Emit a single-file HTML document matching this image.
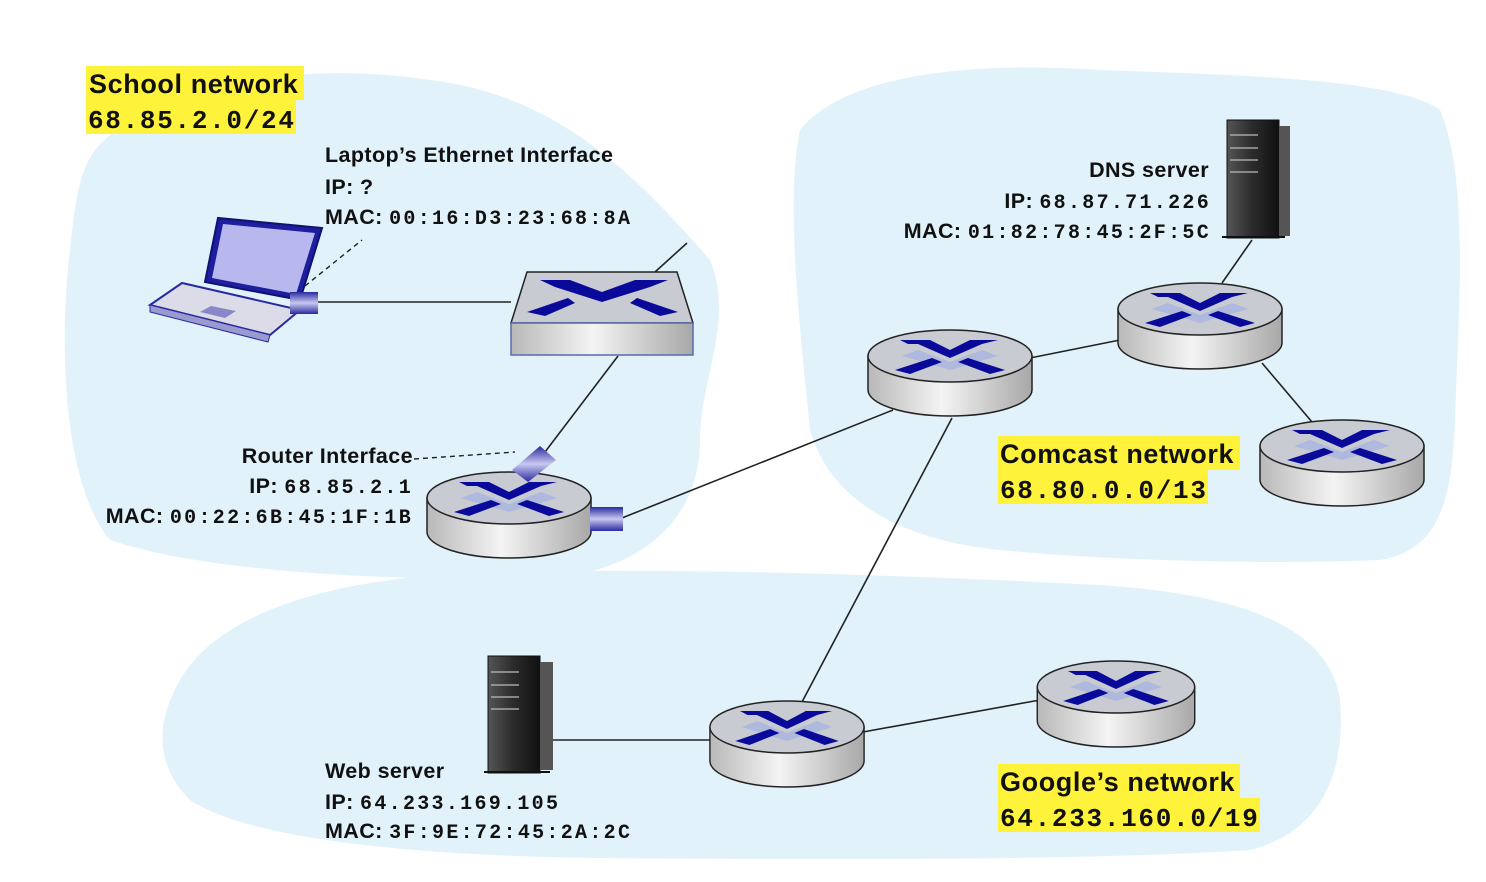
<!DOCTYPE html>
<html><head><meta charset="utf-8"><style>
html,body{margin:0;padding:0;background:#fff;}
svg{display:block}
.s{font-family:"Liberation Sans",sans-serif;font-weight:bold;fill:#111;letter-spacing:0.4px}
.m{font-family:"Liberation Mono",monospace;fill:#111;font-weight:bold;letter-spacing:2.3px}
.hs{letter-spacing:0.6px}
.hm{letter-spacing:1.7px}
</style></head><body>
<svg width="1486" height="882" viewBox="0 0 1486 882" xmlns="http://www.w3.org/2000/svg">
<defs>
<linearGradient id="cyl" x1="0" x2="1" y1="0" y2="0">
<stop offset="0" stop-color="#b8b8b8"/><stop offset="0.45" stop-color="#f4f4f4"/><stop offset="1" stop-color="#a8a8a8"/></linearGradient>
<linearGradient id="srv" x1="0" x2="1"><stop offset="0" stop-color="#555"/><stop offset="0.5" stop-color="#2a2a2a"/><stop offset="1" stop-color="#111"/></linearGradient>
<linearGradient id="port" x1="0" x2="0" y1="0" y2="1"><stop offset="0" stop-color="#2a2aa0"/><stop offset="0.5" stop-color="#c8c8f0"/><stop offset="1" stop-color="#2a2aa0"/></linearGradient>
<g id="router">
<path d="M-82,0 L-82,34 A82,26 0 0 0 82,34 L82,0 Z" fill="url(#cyl)" stroke="#222" stroke-width="1.5"/>
<ellipse cx="0" cy="0" rx="82" ry="26" fill="#c9cbd2" stroke="#222" stroke-width="1.5"/>
<path d="M-32,-6 L0,6 L32,-6 L48,0 L0,14 L-48,0 Z" fill="#a8b4e0" opacity="0.8"/>
<polygon points="-50,-16 -20,-16 0,-6 20,-16 48,-16 32,-12 0,2 -32,-12 -42,-12" fill="#0a0a9a"/>
<polygon points="-55,14 -18,2 -8,6 -40,18" fill="#0a0a9a"/>
<polygon points="55,14 18,2 8,6 40,18" fill="#0a0a9a"/>
</g>
</defs>
<!-- clouds -->
<path d="M95,150 C150,85 300,60 430,80 C560,95 640,180 710,260 C735,320 700,380 700,440 C700,520 640,585 500,580 C350,578 200,570 110,540 C60,480 60,330 70,250 C75,200 80,170 95,150 Z" fill="#e1f2fb"/>
<path d="M800,130 C840,80 950,60 1100,70 C1250,75 1400,80 1440,110 C1470,180 1458,320 1455,420 C1452,500 1440,550 1380,560 C1260,565 1100,560 1000,550 C900,540 830,500 810,430 C800,330 785,200 800,130 Z" fill="#e1f2fb"/>
<path d="M180,680 C220,610 340,575 500,572 C700,568 900,575 1100,585 C1250,595 1330,630 1340,700 C1345,760 1330,830 1250,850 C1100,860 850,860 600,858 C420,856 250,840 190,800 C150,760 160,715 180,680 Z" fill="#e1f2fb"/>
<!-- lines -->
<g stroke="#222" stroke-width="1.6" fill="none">
<line x1="318" y1="302" x2="511" y2="302"/>
<line x1="655" y1="272" x2="687" y2="243"/>
<line x1="618" y1="356" x2="545" y2="452"/>
<line x1="622" y1="518" x2="893" y2="410"/>
<line x1="1030" y1="358" x2="1120" y2="340"/>
<line x1="1222" y1="283" x2="1252" y2="240"/>
<line x1="1262" y1="363" x2="1312" y2="422"/>
<line x1="952" y1="418" x2="802" y2="702"/>
<line x1="553" y1="740" x2="712" y2="740"/>
<line x1="863" y1="732" x2="1040" y2="700"/>
</g>
<g stroke="#222" stroke-width="1.4" stroke-dasharray="5,4" fill="none">
<line x1="305" y1="286" x2="362" y2="240"/>
<line x1="414" y1="459" x2="515" y2="452"/>
</g>
<!-- laptop -->
<polygon points="150,305 270,335 300,310 182,283" fill="#dcdce8" stroke="#2a2aa0" stroke-width="2"/>
<polygon points="150,305 150,312 268,342 270,335" fill="#9a9ad0" stroke="#2a2aa0" stroke-width="1"/>
<polygon points="205,282 218,218 322,228 300,300" fill="#1e1ea0" stroke="#111170" stroke-width="2"/>
<polygon points="212,278 223,224 315,233 296,294" fill="#b8b8ee"/>
<polygon points="200,312 225,318 236,311 211,306" fill="#8888c8"/>
<rect x="290" y="292" width="28" height="22" fill="url(#port)"/>
<!-- switch -->
<polygon points="527,272 677,272 693,323 511,323" fill="#c9cbd2" stroke="#222" stroke-width="1.5"/>
<rect x="511" y="323" width="182" height="32" fill="url(#cyl)" stroke="#5a6ab0" stroke-width="1.5"/>
<polygon points="540,280 570,280 602,292 635,280 668,280 650,287 602,302 555,287" fill="#0a0a9a"/>
<polygon points="527,312 568,298 575,303 545,316" fill="#0a0a9a"/>
<polygon points="678,312 637,298 630,303 660,316" fill="#0a0a9a"/>
<!-- routers -->
<use href="#router" x="509" y="498"/>
<polygon points="512,470 540,446 556,460 528,482" fill="url(#port)"/>
<rect x="590" y="507" width="33" height="24" fill="url(#port)"/>
<use href="#router" x="950" y="356"/>
<use href="#router" x="1200" y="309"/>
<use href="#router" x="1342" y="446"/>
<g transform="translate(787,727) scale(0.94,1)"><use href="#router"/></g>
<g transform="translate(1116,687) scale(0.96,1)"><use href="#router"/></g>
<!-- servers -->
<rect x="1227" y="120" width="52" height="118" fill="url(#srv)" stroke="#111"/>
<rect x="1279" y="126" width="11" height="110" fill="#555"/>
<g stroke="#bbb" stroke-width="1.2"><line x1="1230" y1="135" x2="1258" y2="135"/><line x1="1230" y1="148" x2="1258" y2="148"/><line x1="1230" y1="160" x2="1258" y2="160"/><line x1="1230" y1="172" x2="1258" y2="172"/></g>
<line x1="1222" y1="237" x2="1285" y2="237" stroke="#111" stroke-width="2"/>
<rect x="488" y="656" width="52" height="117" fill="url(#srv)" stroke="#111"/>
<rect x="540" y="662" width="13" height="108" fill="#555"/>
<g stroke="#bbb" stroke-width="1.2"><line x1="491" y1="672" x2="519" y2="672"/><line x1="491" y1="685" x2="519" y2="685"/><line x1="491" y1="697" x2="519" y2="697"/><line x1="491" y1="709" x2="519" y2="709"/></g>
<line x1="484" y1="772" x2="550" y2="772" stroke="#111" stroke-width="2"/>
<!-- highlights -->
<g fill="#fff23a">
<rect x="86" y="66" width="218" height="34"/><rect x="86" y="100" width="210" height="34"/>
<rect x="998" y="436" width="242" height="34"/><rect x="998" y="470" width="210" height="34"/>
<rect x="998" y="764" width="242" height="34"/><rect x="998" y="798" width="262" height="34"/>
</g>
<text class="s hs" x="89" y="93" font-size="27">School network</text>
<text class="m hm" x="88" y="128" font-size="26">68.85.2.0/24</text>
<text class="s hs" x="1000" y="463" font-size="27">Comcast network</text>
<text class="m hm" x="1000" y="498" font-size="26">68.80.0.0/13</text>
<text class="s hs" x="1000" y="791" font-size="27">Google’s network</text>
<text class="m hm" x="1000" y="826" font-size="26">64.233.160.0/19</text>
<g font-size="21.5">
<text class="s" x="325" y="162">Laptop’s Ethernet Interface</text>
<text class="s" x="325" y="194">IP: ?</text>
<text x="325" y="224"><tspan class="s">MAC: </tspan><tspan class="m" font-size="20">00:16:D3:23:68:8A</tspan></text>
<text class="s" x="413" y="463" text-anchor="end">Router Interface</text>
<text x="413" y="493" text-anchor="end"><tspan class="s">IP: </tspan><tspan class="m" font-size="20">68.85.2.1</tspan></text>
<text x="413" y="523" text-anchor="end"><tspan class="s">MAC: </tspan><tspan class="m" font-size="20">00:22:6B:45:1F:1B</tspan></text>
<text class="s" x="1209" y="177" text-anchor="end">DNS server</text>
<text x="1211" y="208" text-anchor="end"><tspan class="s">IP: </tspan><tspan class="m" font-size="20">68.87.71.226</tspan></text>
<text x="1211" y="238" text-anchor="end"><tspan class="s">MAC: </tspan><tspan class="m" font-size="20">01:82:78:45:2F:5C</tspan></text>
<text class="s" x="325" y="778">Web server</text>
<text x="325" y="809"><tspan class="s">IP: </tspan><tspan class="m" font-size="20">64.233.169.105</tspan></text>
<text x="325" y="838"><tspan class="s">MAC: </tspan><tspan class="m" font-size="20">3F:9E:72:45:2A:2C</tspan></text>
</g>
</svg>
</body></html>
